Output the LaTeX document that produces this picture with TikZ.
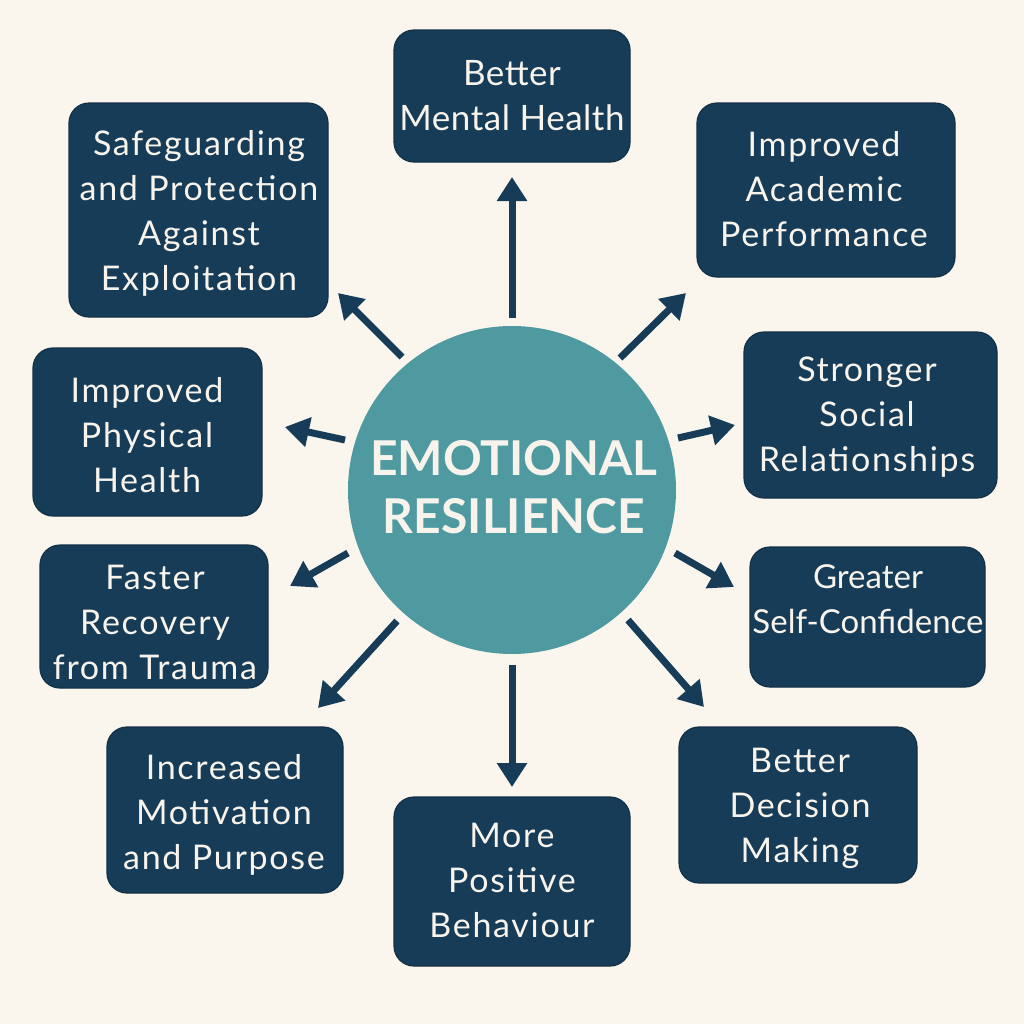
\documentclass[tikz,border=0pt]{standalone}
\usepackage{fontspec}
\setmainfont{Lato}
\newfontfamily\boxfont[LetterSpace=5]{Lato}
\newfontfamily\boxfontn[LetterSpace=1.5]{Lato}
\usetikzlibrary{arrows.meta}
\definecolor{bg}{HTML}{FAF6EE}
\definecolor{navy}{HTML}{173C58}
\definecolor{teal2}{HTML}{4F9AA1}
\definecolor{txtw}{HTML}{F8F4EC}
\tikzset{
  box/.style={fill=navy, draw=navy!80!black, line width=0.6pt, rounded corners=10pt, inner sep=0pt},
  btxt/.style={text=txtw, align=center, font=\boxfont\fontsize{17}{22.5}\selectfont, text depth=0pt, inner sep=0pt},
  arr/.style={draw=navy, line width=3.5pt, -{Triangle[length=12pt,width=14.5pt]}},
}
\begin{document}
\begin{tikzpicture}[x=0.5pt,y=-0.5pt]
\fill[bg] (0,0) rectangle (1024,1024);
\useasboundingbox (0,0) rectangle (1024,1024);
% centre
\node[circle, fill=teal2, minimum size=164pt, inner sep=0pt] (c) at (512,490) {};
\node[text=txtw, align=center, font=\fontsize{24}{29}\bfseries\selectfont, text depth=0pt, inner sep=0pt] (ct) at (514,487) {EMOTIONAL\\RESILIENCE};
% boxes
\node[box, minimum width=118pt, minimum height=66pt] (b1) at (512,96) {};
\node[btxt, font=\boxfontn\fontsize{17.5}{22.5}\selectfont] (t1) at (512,95) {Better\\Mental Health};
\node[box, minimum width=129pt, minimum height=87pt] (b2) at (826,190) {};
\node[btxt] (t2) at (824,189) {Improved\\Academic\\Performance};
\node[box, minimum width=126.5pt, minimum height=83pt] (b3) at (870.5,415) {};
\node[btxt] (t3) at (867,414) {Stronger\\Social\\Relationships};
\node[box, minimum width=117.5pt, minimum height=70pt] (b4) at (867.5,617) {};
\node[btxt, font=\fontsize{16.5}{22.5}\selectfont] (t4) at (868,599) {Greater\\Self-Confidence};
\node[box, minimum width=119pt, minimum height=78pt] (b5) at (798,805) {};
\node[btxt] (t5) at (800,805) {Better\\Decision\\Making};
\node[box, minimum width=118pt, minimum height=84.5pt] (b6) at (512,881.5) {};
\node[btxt] (t6) at (512,880) {More\\Positive\\Behaviour};
\node[box, minimum width=118pt, minimum height=83pt] (b7) at (225,810) {};
\node[btxt] (t7) at (224,812) {Increased\\Motivation\\and Purpose};
\node[box, minimum width=114pt, minimum height=71.5pt] (b8) at (154,616.5) {};
\node[btxt] (t8) at (155,622) {Faster\\Recovery\\from Trauma};
\node[box, minimum width=114.5pt, minimum height=84pt] (b9) at (147.5,432) {};
\node[btxt] (t9) at (147,435) {Improved\\Physical\\Health};
\node[box, minimum width=129.5pt, minimum height=107pt] (b10) at (198.5,210) {};
\node[btxt] (t10) at (199,210) {Safeguarding\\and Protection\\Against\\Exploitation};
% arrows
\draw[arr] ([shift={(0,-172)}]c.center) -- ([shift={(0,81)}]b1.center);
\draw[arr] ([shift={(108,-132)}]c.center) -- ([shift={(-140,103)}]b2.center);
\draw[arr] ([shift={(166,-52)}]c.center) -- ([shift={(-135.5,10)}]b3.center);
\draw[arr] ([shift={(163,63)}]c.center) -- ([shift={(-133.5,-30)}]b4.center);
\draw[arr] ([shift={(116,130)}]c.center) -- ([shift={(-94,-98)}]b5.center);
\draw[arr] ([shift={(0,175)}]c.center) -- ([shift={(0,-94.5)}]b6.center);
\draw[arr] ([shift={(-115,131)}]c.center) -- ([shift={(93,-102)}]b7.center);
\draw[arr] ([shift={(-164,63)}]c.center) -- ([shift={(136,-30.5)}]b8.center);
\draw[arr] ([shift={(-167,-50)}]c.center) -- ([shift={(137.5,-5)}]b9.center);
\draw[arr] ([shift={(-110,-133)}]c.center) -- ([shift={(139.5,83)}]b10.center);
\end{tikzpicture}
\end{document}
